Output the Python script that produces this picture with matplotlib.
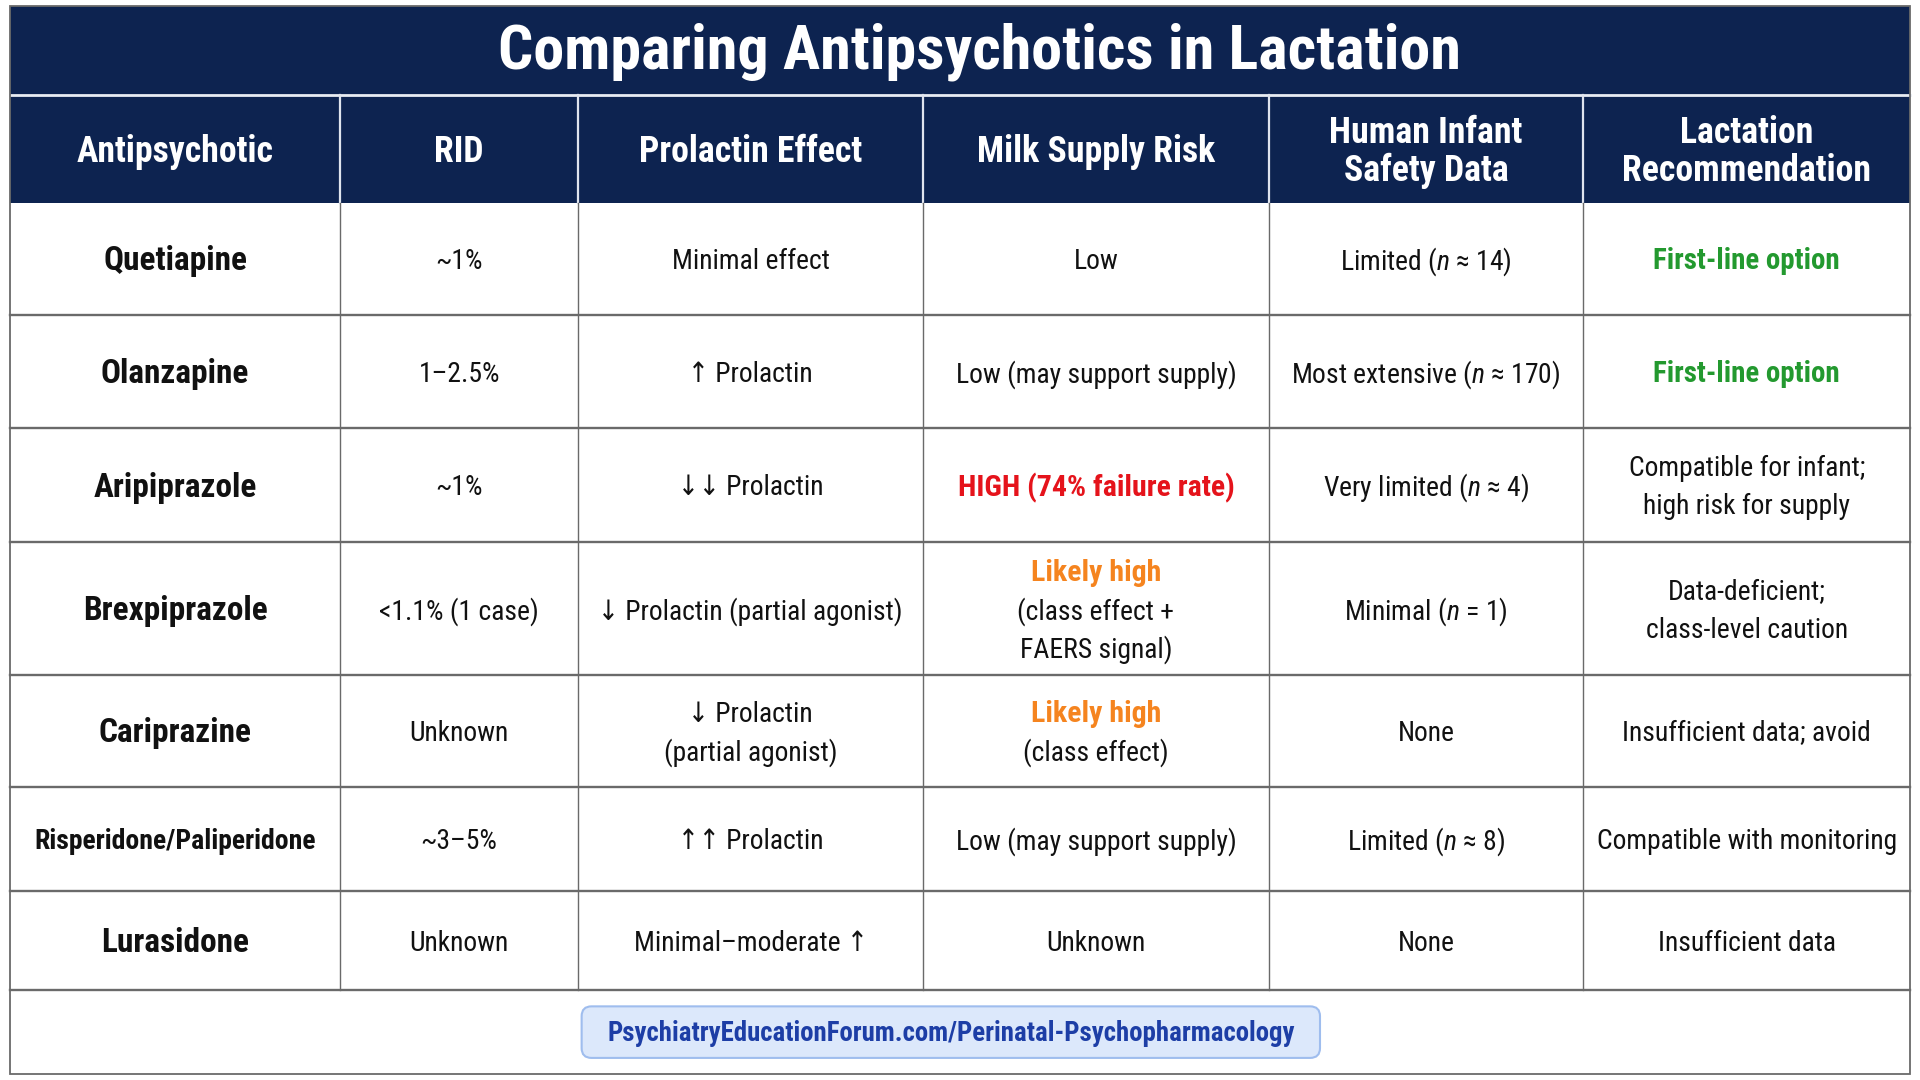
import matplotlib
matplotlib.use("Agg")
import matplotlib.pyplot as plt
from matplotlib import font_manager
from matplotlib.font_manager import FontProperties
from matplotlib.patches import Rectangle, FancyBboxPatch

# ---------------- data ----------------
title = "Comparing Antipsychotics in Lactation"
headers = ["Antipsychotic", "RID", "Prolactin Effect", "Milk Supply Risk",
           "Human Infant\nSafety Data", "Lactation\nRecommendation"]
drugs = ["Quetiapine", "Olanzapine", "Aripiprazole", "Brexpiprazole",
         "Cariprazine", "Risperidone/Paliperidone", "Lurasidone"]
rid = ["~1%", "1–2.5%", "~1%", "<1.1% (1 case)", "Unknown", "~3–5%", "Unknown"]
prolactin = ["Minimal effect", "↑ Prolactin", "↓↓ Prolactin",
             "↓ Prolactin (partial agonist)", "↓ Prolactin\n(partial agonist)",
             "↑↑ Prolactin", "Minimal–moderate ↑"]
milk = ["Low", "Low (may support supply)", "HIGH (74% failure rate)",
        "Likely high\n(class effect +\nFAERS signal)", "Likely high\n(class effect)",
        "Low (may support supply)", "Unknown"]
# emphasis of milk-supply text: None, 'all' (red) or 'first' (orange first line)
milk_emph = [None, None, "all", "first", "first", None, None]
safety = ["Limited ($n$ ≈ 14)", "Most extensive ($n$ ≈ 170)", "Very limited ($n$ ≈ 4)",
          "Minimal ($n$ = 1)", "None", "Limited ($n$ ≈ 8)", "None"]
recommendation = ["First-line option", "First-line option",
                  "Compatible for infant;\nhigh risk for supply",
                  "Data-deficient;\nclass-level caution",
                  "Insufficient data; avoid", "Compatible with monitoring",
                  "Insufficient data"]
rec_green = [True, True, False, False, False, False, False]
footer = "PsychiatryEducationForum.com/Perinatal-Psychopharmacology"

# ---------------- font choice (prefer a condensed face) ----------------
ttf = font_manager.fontManager.ttflist
prefs = [("Liberation Sans Narrow", None), ("Roboto Condensed", None),
         ("Open Sans Condensed", None), ("Noto Sans Condensed", None),
         ("DejaVu Sans Condensed", None), ("Noto Sans", "condensed"),
         ("Open Sans", "condensed"), ("Roboto", "condensed"),
         ("DejaVu Sans", "condensed"), ("Noto Sans SemiCondensed", None),
         ("Open Sans SemiCondensed", None), ("Noto Sans", "semi-condensed"),
         ("Open Sans", "semi-condensed"), ("Roboto", "semi-condensed"),
         ("Lato", None), ("Liberation Sans", None)]
FNAME, FSTRETCH = "DejaVu Sans", "normal"
for name, st in prefs:
    hits = [f for f in ttf if f.name == name and (st is None or f.stretch == st)]
    if hits:
        FNAME = name
        FSTRETCH = st if st is not None else hits[0].stretch
        break
FAM = [FNAME, "DejaVu Sans"]


def fp(weight="normal", size=20, math=False):
    return FontProperties(family=FNAME if math else FAM, weight=weight,
                          stretch=FSTRETCH, size=size)


stretch_tag = "" if FSTRETCH == "normal" else ":stretch=" + str(FSTRETCH)
plt.rcParams["mathtext.fontset"] = "custom"
plt.rcParams["mathtext.rm"] = FNAME + stretch_tag
plt.rcParams["mathtext.it"] = FNAME + ":italic" + stretch_tag
plt.rcParams["mathtext.bf"] = FNAME + ":bold" + stretch_tag

# ---------------- layout ----------------
W, H = 1568, 880
col_edges = [8, 278, 472, 754, 1036, 1293, 1560]
title_top, title_bot = 5, 77
head_bot = 165
row_edges = [165, 257, 349, 442, 550, 641, 726, 807]
table_bottom = 875
LS = 31

NAVY = "#0d2350"
GRID = "#6a6a6a"
GREEN = "#23992f"
RED = "#e5131b"
ORANGE = "#f5841f"
TXT = "#111111"

fig = plt.figure(figsize=(19.2, 10.8), dpi=100)
ax = fig.add_axes([0, 0, 1, 1])
ax.set_xlim(0, W)
ax.set_ylim(H, 0)
ax.axis("off")
fig.patch.set_facecolor("white")
renderer = fig.canvas.get_renderer()
PX_PER_UNIT = 1920 / W


def fit(sample, weight, width_units):
    t = ax.text(0, 0, sample, fontproperties=fp(weight, 20))
    w = t.get_window_extent(renderer).width
    t.remove()
    return 20 * width_units * PX_PER_UNIT / w


S_TITLE = fit(title, "bold", 785)
S_HEAD = fit("Milk Supply Risk", "bold", 194)
S_DRUG = 0.5 * (fit("Brexpiprazole", "bold", 145) + fit("Quetiapine", "bold", 121))
S_DRUG_LONG = fit("Risperidone/Paliperidone", "bold", 230)
S_BODY = fit("Low (may support supply)", "normal", 230)
S_GREEN = fit("First-line option", "bold", 152)
S_EMPH = fit("HIGH (74% failure rate)", "bold", 226)
S_FOOT = fit(footer, "bold", 561)

L, R = col_edges[0], col_edges[-1]
ax.add_patch(Rectangle((L, title_top), R - L, head_bot - title_top,
                       facecolor=NAVY, edgecolor="none", zorder=1))
ax.text(800, (title_top + title_bot) / 2 + 1, title, color="white",
        fontproperties=fp("bold", S_TITLE), ha="center", va="center", zorder=3)
ax.plot([L, R], [title_bot, title_bot], color="#e8ecf3", lw=2.0, zorder=2)

centers = [(col_edges[i] + col_edges[i + 1]) / 2 for i in range(len(col_edges) - 1)]
hy = (title_bot + head_bot) / 2 + 3
for i, h in enumerate(headers):
    lines = h.split("\n")
    n = len(lines)
    for k, ln in enumerate(lines):
        ax.text(centers[i], hy + (k - (n - 1) / 2) * LS, ln, color="white",
                fontproperties=fp("bold", S_HEAD), ha="center", va="center", zorder=3)
for x in col_edges[1:-1]:
    ax.plot([x, x], [title_bot, head_bot], color="#dfe4ee", lw=1.6, zorder=2)

for y in row_edges[1:]:
    ax.plot([L, R], [y, y], color=GRID, lw=1.7, zorder=2)
for x in col_edges[1:-1]:
    ax.plot([x, x], [head_bot, row_edges[-1]], color=GRID, lw=1.0, zorder=2)
ax.add_patch(Rectangle((L, title_top), R - L, table_bottom - title_top,
                       facecolor="none", edgecolor=GRID, lw=1.3, zorder=4))


def cell_lines(cx, cy, text, colors, weights, sizes):
    lines = text.split("\n")
    n = len(lines)
    for k, ln in enumerate(lines):
        ax.text(cx, cy + (k - (n - 1) / 2) * LS, ln, color=colors[k],
                fontproperties=fp(weights[k], sizes[k], math="$" in ln),
                ha="center", va="center", zorder=3)


for r in range(len(drugs)):
    cy = (row_edges[r] + row_edges[r + 1]) / 2 + 2
    dsize = S_DRUG_LONG if len(drugs[r]) > 16 else S_DRUG
    ax.text(centers[0], cy, drugs[r], color=TXT, fontproperties=fp("bold", dsize),
            ha="center", va="center", zorder=3)
    cell_lines(centers[1], cy, rid[r], [TXT], ["normal"], [S_BODY])
    nl = prolactin[r].count("\n") + 1
    cell_lines(centers[2], cy, prolactin[r], [TXT] * nl, ["normal"] * nl, [S_BODY] * nl)
    nl = milk[r].count("\n") + 1
    if milk_emph[r] == "all":
        cols, wts, szs = [RED] * nl, ["bold"] * nl, [S_EMPH] * nl
    elif milk_emph[r] == "first":
        cols = [ORANGE] + [TXT] * (nl - 1)
        wts = ["bold"] + ["normal"] * (nl - 1)
        szs = [S_EMPH] + [S_BODY] * (nl - 1)
    else:
        cols, wts, szs = [TXT] * nl, ["normal"] * nl, [S_BODY] * nl
    cell_lines(centers[3], cy, milk[r], cols, wts, szs)
    cell_lines(centers[4], cy, safety[r], [TXT], ["normal"], [S_BODY])
    nl = recommendation[r].count("\n") + 1
    if rec_green[r]:
        cell_lines(centers[5], cy, recommendation[r], [GREEN] * nl, ["bold"] * nl, [S_GREEN] * nl)
    else:
        cell_lines(centers[5], cy, recommendation[r], [TXT] * nl, ["normal"] * nl, [S_BODY] * nl)

bx0, bx1, by0, by1 = 475, 1078, 820, 862
ax.add_patch(FancyBboxPatch((bx0, by0), bx1 - bx0, by1 - by0,
                            boxstyle="round,pad=0,rounding_size=8",
                            facecolor="#dce8fb", edgecolor="#9fbdee", lw=1.5, zorder=3))
ax.text((bx0 + bx1) / 2, (by0 + by1) / 2 + 1, footer, color="#1d3ea6",
        fontproperties=fp("bold", S_FOOT), ha="center", va="center", zorder=4)

fig.savefig("out.png", dpi=100, facecolor="white")
